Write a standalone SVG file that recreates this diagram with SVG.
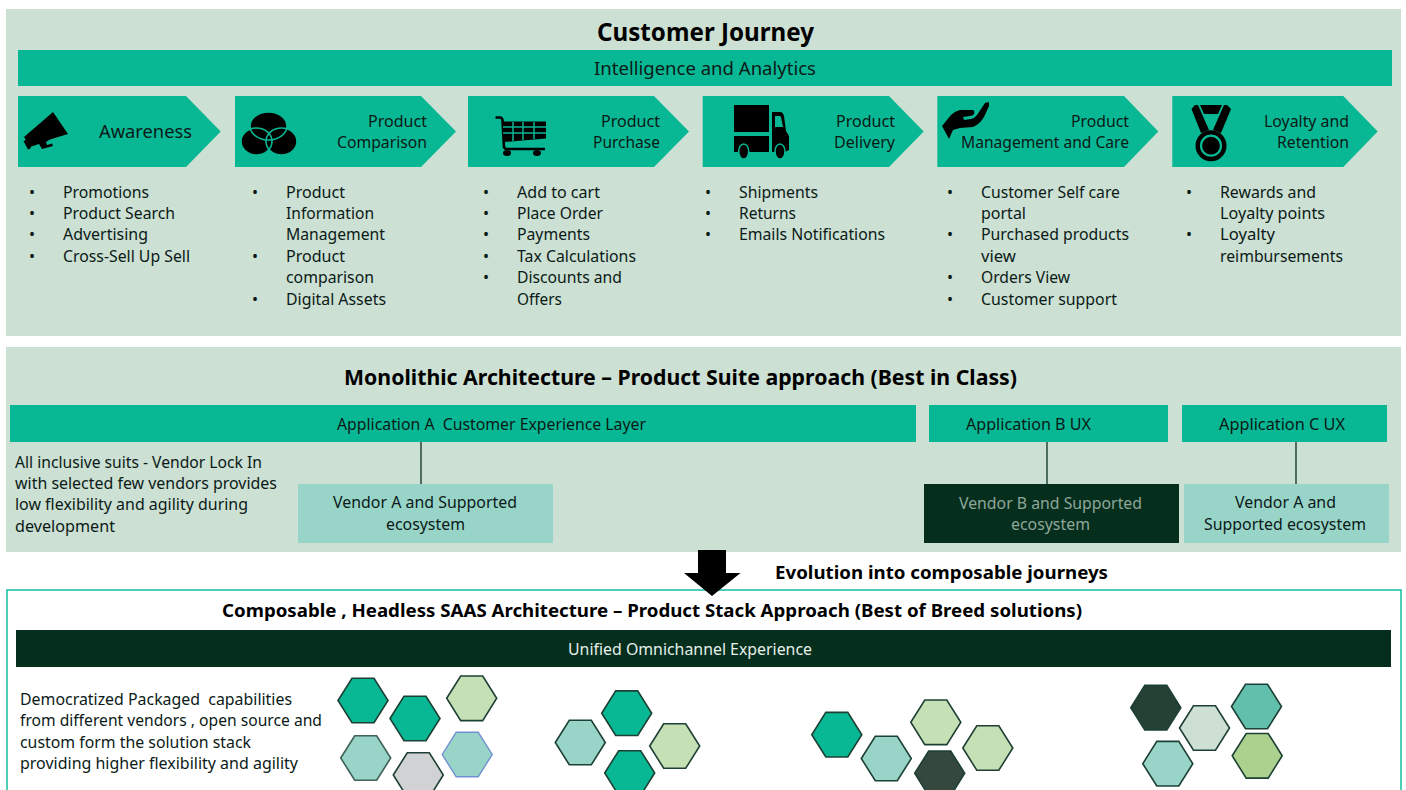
<svg xmlns="http://www.w3.org/2000/svg" width="1406" height="790" viewBox="0 0 1406 790">
<style>
text{font-family:"Noto Sans","Open Sans","Liberation Sans",sans-serif;font-size:16px;fill:#0b1a17}
.b{font-weight:700;fill:#000}
.h{font-size:18.5px}
.panel{fill:#cce0d3}
.teal{fill:#08b894}
.dark{fill:#052e1c}
.light{fill:#99d4c9}
.ink{fill:#000}
.lnk{stroke:#2f5246;stroke-width:1.6;fill:none}
.hx{stroke:#1d4034;stroke-width:1.6}
.tl{stroke:#08b894;fill:none}
</style>
<defs>
<polygon id="hex" points="-25,0 -11,-22.3 11,-22.3 25,0 11,22.3 -11,22.3"/>
</defs>
<rect width="1406" height="790" fill="#fff"/>
<g id="customer-journey">
<rect class="panel" x="6" y="9" width="1395" height="327"/>
<text class="b" x="597" y="41" style="font-size:25px" textLength="217" lengthAdjust="spacingAndGlyphs">Customer Journey</text>
</g>
<g id="intelligence-bar">
<rect class="teal" x="18" y="50" width="1374" height="36"/>
<text class="h" x="594" y="75" textLength="222" lengthAdjust="spacingAndGlyphs">Intelligence and Analytics</text>
</g>
<g id="awareness">
<polygon class="teal" points="18,96 186,96 220.7,131.5 186,167 18,167"/>
<path class="ink" d="M53,112 L68,134 L50,139.5 L46,142 L47,145 L52,143.5 L53,146 L42,149 L39,144 L30,147 L24,137 Z"/>
<path class="ink" d="M23.5,141 L26,140 L31,148 L28,149.5 Z"/>
<text class="h" x="99" y="138" textLength="93" lengthAdjust="spacingAndGlyphs">Awareness</text>
<text x="29" y="198">•</text><text x="63" y="198" textLength="86" lengthAdjust="spacingAndGlyphs">Promotions</text>
<text x="29" y="219">•</text><text x="63" y="219" textLength="112" lengthAdjust="spacingAndGlyphs">Product Search</text>
<text x="29" y="240">•</text><text x="63" y="240" textLength="85" lengthAdjust="spacingAndGlyphs">Advertising</text>
<text x="29" y="262">•</text><text x="63" y="262" textLength="127" lengthAdjust="spacingAndGlyphs">Cross-Sell Up Sell</text>
</g>
<g id="product-comparison">
<polygon class="teal" points="235,96 421,96 456,131.5 421,167 235,167"/>
<ellipse class="ink" cx="268.500" cy="126" rx="18.500" ry="14"/>
<ellipse class="ink" cx="256.500" cy="141.500" rx="15.500" ry="13.500"/>
<ellipse class="ink" cx="281.500" cy="141.500" rx="15.500" ry="13.500"/>
<ellipse class="tl" cx="268.500" cy="126" rx="18.500" ry="14" stroke-width="1.600"/>
<ellipse class="tl" cx="256.500" cy="141.500" rx="15.500" ry="13.500" stroke-width="1.600"/>
<ellipse class="tl" cx="281.500" cy="141.500" rx="15.500" ry="13.500" stroke-width="1.600"/>
<text x="368" y="127" textLength="59" lengthAdjust="spacingAndGlyphs">Product</text>
<text x="337" y="148" textLength="90" lengthAdjust="spacingAndGlyphs">Comparison</text>
<text x="252" y="198">•</text><text x="286" y="198" textLength="59" lengthAdjust="spacingAndGlyphs">Product</text>
<text x="286" y="219" textLength="88" lengthAdjust="spacingAndGlyphs">Information</text>
<text x="286" y="240" textLength="99" lengthAdjust="spacingAndGlyphs">Management</text>
<text x="252" y="262">•</text><text x="286" y="262" textLength="59" lengthAdjust="spacingAndGlyphs">Product</text>
<text x="286" y="283" textLength="88" lengthAdjust="spacingAndGlyphs">comparison</text>
<text x="252" y="305">•</text><text x="286" y="305" textLength="100" lengthAdjust="spacingAndGlyphs">Digital Assets</text>
</g>
<g id="product-purchase">
<polygon class="teal" points="468,96 654,96 689,131.5 654,167 468,167"/>
<path d="M495.500,117.500 H500 Q502,117.500 502.500,120 L504,147 Q504.500,149 507,149 H545" fill="none" stroke="#000" stroke-width="2.600"/>
<path class="ink" d="M502,121.500 H546 V138.500 L504,142 Z"/>
<path d="M513,122 V141 M523,122 V140 M534,122 V139 M503,127 H546 M503,133 H546" stroke="#08b894" stroke-width="1.500" fill="none"/>
<ellipse class="ink" cx="507" cy="153" rx="4" ry="3"/><ellipse class="ink" cx="537" cy="153" rx="4" ry="3"/>
<text x="601" y="127" textLength="59" lengthAdjust="spacingAndGlyphs">Product</text>
<text x="593" y="148" textLength="67" lengthAdjust="spacingAndGlyphs">Purchase</text>
<text x="483" y="198">•</text><text x="517" y="198" textLength="83" lengthAdjust="spacingAndGlyphs">Add to cart</text>
<text x="483" y="219">•</text><text x="517" y="219" textLength="86" lengthAdjust="spacingAndGlyphs">Place Order</text>
<text x="483" y="240">•</text><text x="517" y="240" textLength="73" lengthAdjust="spacingAndGlyphs">Payments</text>
<text x="483" y="262">•</text><text x="517" y="262" textLength="119" lengthAdjust="spacingAndGlyphs">Tax Calculations</text>
<text x="483" y="283">•</text><text x="517" y="283" textLength="105" lengthAdjust="spacingAndGlyphs">Discounts and</text>
<text x="517" y="305" textLength="45" lengthAdjust="spacingAndGlyphs">Offers</text>
</g>
<g id="product-delivery">
<polygon class="teal" points="702.700,96 889,96 923.700,131.500 889,167 702.700,167"/>
<rect class="ink" x="734" y="105" width="35" height="27"/>
<rect class="ink" x="734" y="136" width="35" height="16"/>
<path class="ink" fill-rule="evenodd" d="M772,112 H780 Q783,112 784,116 L786,131 L789,136 V150 L785,152 H772 Z M775,116 V127 H783 L781,117 Q781,116 779,116 Z"/>
<ellipse class="ink" cx="743.700" cy="151.500" rx="5" ry="7.500" stroke="#08b894" stroke-width="1.500"/>
<ellipse class="ink" cx="780" cy="151.500" rx="5" ry="7.500" stroke="#08b894" stroke-width="1.500"/>
<text x="836" y="127" textLength="59" lengthAdjust="spacingAndGlyphs">Product</text>
<text x="834" y="148" textLength="61" lengthAdjust="spacingAndGlyphs">Delivery</text>
<text x="705" y="198">•</text><text x="739" y="198" textLength="79" lengthAdjust="spacingAndGlyphs">Shipments</text>
<text x="705" y="219">•</text><text x="739" y="219" textLength="57" lengthAdjust="spacingAndGlyphs">Returns</text>
<text x="705" y="240">•</text><text x="739" y="240" textLength="146" lengthAdjust="spacingAndGlyphs">Emails Notifications</text>
</g>
<g id="product-management">
<polygon class="teal" points="937.300,96 1124,96 1158.300,131.500 1124,167 937.300,167"/>
<path class="ink" d="M942,126 L951,115 Q955,111 960,110 L973,110 Q975,111 974,114 Q973,116 970,116 L963,117 L964,120 L971,119 Q975,118 977,115 L985,103 L989,102 L989,106 L984,117 Q980,124 973,127 L960,128 L953,130 L949,139 Z"/>
<text x="1071" y="127" textLength="58" lengthAdjust="spacingAndGlyphs">Product</text>
<text x="961" y="148" textLength="168" lengthAdjust="spacingAndGlyphs">Management and Care</text>
<text x="947" y="198">•</text><text x="981" y="198" textLength="139" lengthAdjust="spacingAndGlyphs">Customer Self care</text>
<text x="981" y="219" textLength="45" lengthAdjust="spacingAndGlyphs">portal</text>
<text x="947" y="240">•</text><text x="981" y="240" textLength="148" lengthAdjust="spacingAndGlyphs">Purchased products</text>
<text x="981" y="262" textLength="35" lengthAdjust="spacingAndGlyphs">view</text>
<text x="947" y="283">•</text><text x="981" y="283" textLength="89" lengthAdjust="spacingAndGlyphs">Orders View</text>
<text x="947" y="305">•</text><text x="981" y="305" textLength="136" lengthAdjust="spacingAndGlyphs">Customer support</text>
</g>
<g id="loyalty-retention">
<polygon class="teal" points="1172.300,96 1343.300,96 1377.700,131.500 1343.300,167 1172.300,167"/>
<polygon class="ink" points="1191.500,109 1195,105 1198,105 1209,130 1201,133"/>
<polygon class="ink" points="1231,109 1227,105 1224,105 1213,130 1221,133"/>
<polygon class="ink" points="1200,105 1222,105 1218,114 1204,114"/>
<circle class="ink" cx="1211" cy="145.700" r="15.500"/>
<circle class="tl" cx="1211" cy="145.700" r="10" stroke-width="2.200"/>
<text x="1264" y="127" textLength="85" lengthAdjust="spacingAndGlyphs">Loyalty and</text>
<text x="1277" y="148" textLength="72" lengthAdjust="spacingAndGlyphs">Retention</text>
<text x="1186" y="198">•</text><text x="1220" y="198" textLength="96" lengthAdjust="spacingAndGlyphs">Rewards and</text>
<text x="1220" y="219" textLength="105" lengthAdjust="spacingAndGlyphs">Loyalty points</text>
<text x="1186" y="240">•</text><text x="1220" y="240" textLength="55" lengthAdjust="spacingAndGlyphs">Loyalty</text>
<text x="1220" y="262" textLength="123" lengthAdjust="spacingAndGlyphs">reimbursements</text>
</g>
<g id="monolithic">
<rect class="panel" x="6" y="347" width="1395" height="205"/>
<text class="b" x="344" y="385" style="font-size:21px" textLength="673" lengthAdjust="spacingAndGlyphs">Monolithic Architecture – Product Suite approach (Best in Class)</text>
<text x="15" y="468" textLength="247" lengthAdjust="spacingAndGlyphs">All inclusive suits - Vendor Lock In</text>
<text x="15" y="489" textLength="262" lengthAdjust="spacingAndGlyphs">with selected few vendors provides</text>
<text x="15" y="510" textLength="233" lengthAdjust="spacingAndGlyphs">low flexibility and agility during</text>
<text x="15" y="532" textLength="100" lengthAdjust="spacingAndGlyphs">development</text>
</g>
<g id="connectors">
<path class="lnk" d="M421,442 V484 M1047,442 V484 M1296,442 V484"/>
<path class="lnk" d="M366,667 V678 M623.300,667 V691 M933.300,667 V700 M1201.700,667 V705"/>
</g>
<g id="app-a">
<rect class="teal" x="10" y="405" width="906" height="37"/>
<text x="337" y="430" textLength="309" lengthAdjust="spacingAndGlyphs" xml:space="preserve">Application A  Customer Experience Layer</text>
</g>
<g id="app-b">
<rect class="teal" x="929" y="405" width="239" height="37"/>
<text x="966" y="430" textLength="125" lengthAdjust="spacingAndGlyphs">Application B UX</text>
</g>
<g id="app-c">
<rect class="teal" x="1182" y="405" width="205" height="37"/>
<text x="1219" y="430" textLength="126" lengthAdjust="spacingAndGlyphs">Application C UX</text>
</g>
<g id="vendor-a">
<rect class="light" x="298" y="484" width="255" height="59"/>
<text x="333" y="508" textLength="184" lengthAdjust="spacingAndGlyphs">Vendor A and Supported</text>
<text x="386" y="530" textLength="79" lengthAdjust="spacingAndGlyphs">ecosystem</text>
</g>
<g id="vendor-b">
<rect class="dark" x="924" y="484" width="255" height="59"/>
<text x="959" y="509" style="fill:#8fa79b" textLength="183" lengthAdjust="spacingAndGlyphs">Vendor B and Supported</text>
<text x="1011" y="530" style="fill:#8fa79b" textLength="79" lengthAdjust="spacingAndGlyphs">ecosystem</text>
</g>
<g id="vendor-c">
<rect class="light" x="1184" y="484" width="205" height="59"/>
<text x="1235" y="508" textLength="101" lengthAdjust="spacingAndGlyphs">Vendor A and</text>
<text x="1204" y="530" textLength="162" lengthAdjust="spacingAndGlyphs">Supported ecosystem</text>
</g>
<g id="composable">
<rect x="7" y="590" width="1394" height="210" fill="#fff" stroke="#12bfa0" stroke-width="1.500"/>
<text class="b" x="222" y="617" style="font-size:18px" textLength="860" lengthAdjust="spacingAndGlyphs">Composable , Headless SAAS Architecture – Product Stack Approach (Best of Breed solutions)</text>
<text x="20" y="705" textLength="272" lengthAdjust="spacingAndGlyphs" xml:space="preserve">Democratized Packaged  capabilities</text>
<text x="20" y="726" textLength="302" lengthAdjust="spacingAndGlyphs">from different vendors , open source and</text>
<text x="20" y="748" textLength="231" lengthAdjust="spacingAndGlyphs">custom form the solution stack</text>
<text x="20" y="769" textLength="278" lengthAdjust="spacingAndGlyphs">providing higher flexibility and agility</text>
</g>
<g id="evolution">
<polygon class="ink" points="698,550 726,550 726,573 740.500,573 712,596 684,573 698,573"/>
<text class="b" x="775" y="579" style="font-size:18px" textLength="333" lengthAdjust="spacingAndGlyphs">Evolution into composable journeys</text>
</g>
<g id="omnichannel">
<rect class="dark" x="16" y="630" width="1375" height="37"/>
<text x="568" y="655" style="fill:#e6efea" textLength="244" lengthAdjust="spacingAndGlyphs">Unified Omnichannel Experience</text>
</g>
<g id="cluster-1">
<use href="#hex" class="hx" x="363" y="700.500" fill="#08b894"/>
<use href="#hex" class="hx" x="415" y="718.500" fill="#08b894"/>
<use href="#hex" class="hx" x="471.700" y="698.300" fill="#c6e0b6"/>
<use href="#hex" class="hx" x="365.700" y="758" fill="#99d4c9" stroke-opacity=".8"/>
<use href="#hex" class="hx" x="418.300" y="775" fill="#d0d2d3"/>
<use href="#hex" x="467.200" y="754.500" fill="#99d4c9" stroke="#6f8fd0" stroke-width="1.400"/>
</g>
<g id="cluster-2">
<use href="#hex" class="hx" x="626.700" y="713.200" fill="#08b894"/>
<use href="#hex" class="hx" x="580.300" y="742.500" fill="#99d4c9"/>
<use href="#hex" class="hx" x="674.700" y="746" fill="#c6e0b6"/>
<use href="#hex" class="hx" x="629.700" y="773" fill="#08b894"/>
</g>
<g id="cluster-3">
<use href="#hex" class="hx" x="836.800" y="734.700" fill="#08b894"/>
<use href="#hex" class="hx" x="886.300" y="758.500" fill="#99d4c9"/>
<use href="#hex" class="hx" x="935.800" y="722.300" fill="#c6e0b6"/>
<use href="#hex" class="hx" x="987.800" y="748" fill="#c6e0b6"/>
<use href="#hex" class="hx" x="939.700" y="773.300" fill="#34483d"/>
</g>
<g id="cluster-4">
<use href="#hex" class="hx" x="1155.800" y="707.700" fill="#254136"/>
<use href="#hex" class="hx" x="1204.500" y="728" fill="#cde0d3"/>
<use href="#hex" class="hx" x="1256.500" y="706.500" fill="#62bfac"/>
<use href="#hex" class="hx" x="1167.800" y="763.700" fill="#99d4c9"/>
<use href="#hex" class="hx" x="1257.200" y="755.800" fill="#abd18e"/>
</g>
</svg>
